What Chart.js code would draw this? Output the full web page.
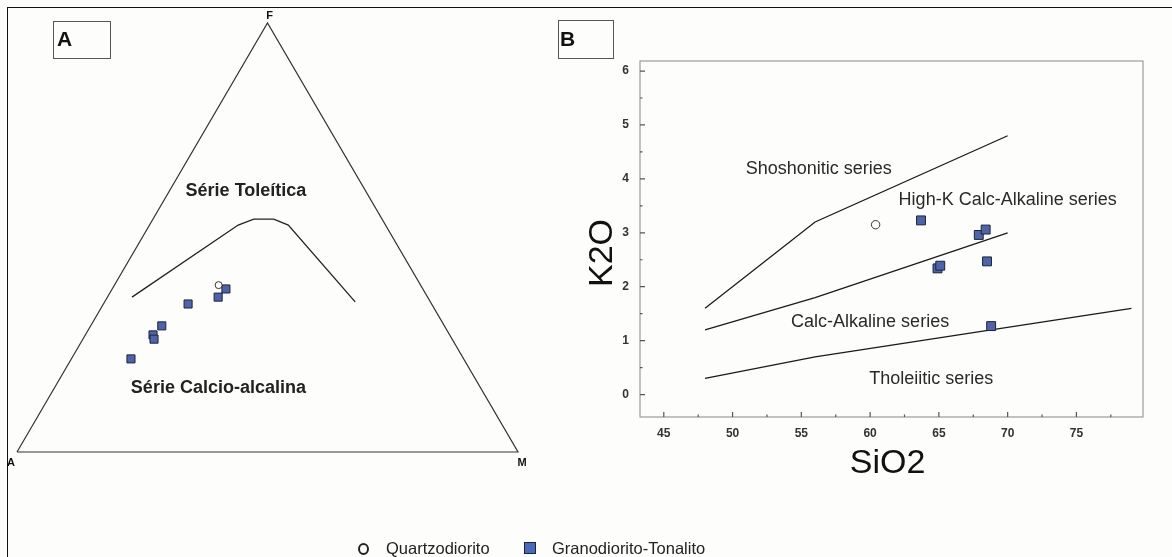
<!DOCTYPE html>
<html>
<head>
<meta charset="utf-8">
<script src="https://cdn.jsdelivr.net/npm/chart.js@4/dist/chart.umd.min.js"></script>
<style>
  body { margin: 0; width: 1172px; height: 557px; overflow: hidden; position: relative;
         background: #fdfdfb; font-family: Arial, "Liberation Sans", sans-serif; }
  #frame { position: absolute; left: 7px; top: 7px; right: -5px; bottom: -5px;
           border-top: 1.5px solid #111; border-left: 1.5px solid #111; }
  .tag { position: absolute; border: 1px solid #555; font-weight: bold; font-size: 21px;
         line-height: 21px; color: #111; box-sizing: border-box; }
  canvas { position: absolute; top: 0; }
  .leg { position: absolute; font-size: 16.5px; line-height: 20px; color: #222; top: 538px; }
</style>
</head>
<body>
<div id="frame"></div>
<canvas id="afm" width="560" height="557" style="left:0"></canvas>
<canvas id="kso" width="632" height="557" style="left:540px"></canvas>
<div class="tag" style="left:53px;top:21px;width:58px;height:38px;padding:6px 0 0 3px">A</div>
<div class="tag" style="left:558px;top:20px;width:56px;height:39px;padding:7px 0 0 1px">B</div>
<div id="legend"></div>
<script>
// ---- AFM diagram (A = Na2O+K2O, F = FeOt, M = MgO, in %) ----
const qdA = [40.3];
const qdF = [38.9];
const qdM = [20.8];
const gtA = [39.3, 41.8, 48.6, 56.4, 59.2, 59.5, 66.4];
const gtF = [38.0, 36.1, 34.5, 29.4, 27.3, 26.3, 21.7];
const gtM = [22.7, 22.1, 16.9, 14.2, 13.5, 14.2, 11.9];
// Irvine & Baragar tholeiitic / calc-alkaline divide
const divA = [59.0, 29.4, 25.6, 21.6, 19.4, 15.0];
const divF = [36.1, 52.9, 54.3, 54.3, 52.9, 35.0];
const divM = [4.9, 17.7, 20.1, 24.1, 27.7, 50.0];

// ---- K2O vs SiO2 diagram (wt%) ----
const qdSiO2 = [60.4];
const qdK2O = [3.15];
const gtSiO2 = [63.7, 67.9, 68.4, 64.9, 65.1, 68.5, 68.8];
const gtK2O = [3.23, 2.96, 3.06, 2.34, 2.39, 2.47, 1.27];
const shoSiO2 = [48, 56, 70];
const shoK2O = [1.6, 3.2, 4.8];
const hkSiO2 = [48, 56, 70];
const hkK2O = [1.2, 1.8, 3.0];
const thSiO2 = [48, 56, 79];
const thK2O = [0.3, 0.7, 1.6];
const xTicks = [45, 50, 55, 60, 65, 70, 75];
const xMinor = [47.5, 52.5, 57.5, 62.5, 67.5, 72.5, 77.5];
const yTicks = [0, 1, 2, 3, 4, 5, 6];
const yMinor = [0.5, 1.5, 2.5, 3.5, 4.5, 5.5];

const seriesNames = ['Quartzodiorito', 'Granodiorito-Tonalito'];
const sqFill = '#4e64a6';
const sqEdge = '#1b2340';

// ternary -> cartesian, A at origin, M at (100,0), F at apex
function toXY(a, f, m) {
  const s = a + f + m;
  return { x: (m + f / 2) / s * 100, y: f / s * 100 * Math.sqrt(3) / 2 };
}
function ternary(as, fs, ms) {
  return as.map((a, i) => toXY(a, fs[i], ms[i]));
}
function pairs(xs, ys) {
  return xs.map((x, i) => ({ x: x, y: ys[i] }));
}

// text helper, works in data coords of a chart
function label(chart, text, x, y, font, color, align, dx, dy) {
  const ctx = chart.ctx;
  ctx.save();
  ctx.font = font;
  ctx.fillStyle = color;
  ctx.textAlign = align || 'center';
  ctx.textBaseline = 'alphabetic';
  ctx.fillText(text, chart.scales.x.getPixelForValue(x) + (dx || 0),
               chart.scales.y.getPixelForValue(y) + (dy || 0));
  ctx.restore();
}

const afmText = {
  id: 'afmText',
  afterDatasetsDraw(chart) {
    const v = 'bold 11px Arial';
    const F = toXY(0, 100, 0), A = toXY(100, 0, 0), M = toXY(0, 0, 100);
    label(chart, 'F', F.x, F.y, v, '#111', 'center', 2, -4);
    label(chart, 'A', A.x, A.y, v, '#111', 'center', -6, 14);
    label(chart, 'M', M.x, M.y, v, '#111', 'center', 4, 14);
    label(chart, 'Série Toleítica', 45.7, 51.7, 'bold 18px Arial', '#222');
    label(chart, 'Série Calcio-alcalina', 40.2, 11.9, 'bold 18px Arial', '#222');
  }
};

new Chart(document.getElementById('afm'), {
  type: 'scatter',
  data: {
    datasets: [
      { label: seriesNames[0], data: ternary(qdA, qdF, qdM), pointStyle: 'circle', pointRadius: 3.5,
        backgroundColor: '#fff', borderColor: '#333', borderWidth: 1 },
      { label: seriesNames[1], data: ternary(gtA, gtF, gtM), pointStyle: 'rect', pointRadius: 5.7,
        backgroundColor: sqFill, borderColor: sqEdge, borderWidth: 1 },
      { data: ternary(divA, divF, divM), showLine: true, pointRadius: 0,
        borderColor: '#222', borderWidth: 1.3, clip: false },
      { data: ternary([100, 0, 0, 100], [0, 100, 0, 0], [0, 0, 100, 0]), showLine: true,
        pointRadius: 0, borderColor: '#333', borderWidth: 1.2, clip: false }
    ]
  },
  options: {
    responsive: false,
    animation: false,
    events: [],
    layout: { padding: { left: 17, right: 42, top: 23, bottom: 105 } },
    plugins: { legend: { display: false }, tooltip: { enabled: false } },
    scales: {
      x: { type: 'linear', min: 0, max: 100, display: false },
      y: { type: 'linear', min: 0, max: 86.6, display: false }
    }
  },
  plugins: [afmText]
});

// frame, inward ticks, axis titles and field names for the K2O diagram
const ksoDecor = {
  id: 'ksoDecor',
  afterDatasetsDraw(chart) {
    const ctx = chart.ctx, a = chart.chartArea;
    const sx = chart.scales.x, sy = chart.scales.y;
    ctx.save();
    ctx.strokeStyle = '#9c9c9c';
    ctx.lineWidth = 1.2;
    ctx.strokeRect(a.left, a.top, a.right - a.left, a.bottom - a.top);
    ctx.strokeStyle = '#555';
    ctx.beginPath();
    xTicks.forEach(v => { const p = sx.getPixelForValue(v); ctx.moveTo(p, a.bottom); ctx.lineTo(p, a.bottom - 5); });
    xMinor.forEach(v => { const p = sx.getPixelForValue(v); ctx.moveTo(p, a.bottom); ctx.lineTo(p, a.bottom - 2.5); });
    yTicks.forEach(v => { const p = sy.getPixelForValue(v); ctx.moveTo(a.left, p); ctx.lineTo(a.left + 5, p); });
    yMinor.forEach(v => { const p = sy.getPixelForValue(v); ctx.moveTo(a.left, p); ctx.lineTo(a.left + 2.5, p); });
    ctx.stroke();

    ctx.fillStyle = '#111';
    ctx.font = '34px Arial';
    ctx.textAlign = 'center';
    ctx.textBaseline = 'alphabetic';
    ctx.fillText('SiO2', (a.left + a.right) / 2 - 4, a.bottom + 56);
    ctx.translate(a.left - 28, (a.top + a.bottom) / 2 + 14);
    ctx.rotate(-Math.PI / 2);
    ctx.fillText('K2O', 0, 0);
    ctx.restore();

    const f = '18px Arial', c = '#2a2a2a';
    label(chart, 'Shoshonitic series', 56.27, 4.09, f, c);
    label(chart, 'High-K Calc-Alkaline series', 70.0, 3.51, f, c);
    label(chart, 'Calc-Alkaline series', 60.0, 1.25, f, c);
    label(chart, 'Tholeiitic series', 64.45, 0.19, f, c);
  }
};

const tickFont = { family: 'Arial', size: 12, weight: 'bold' };

new Chart(document.getElementById('kso'), {
  type: 'scatter',
  data: {
    datasets: [
      { label: seriesNames[0], data: pairs(qdSiO2, qdK2O), pointStyle: 'circle', pointRadius: 4.2,
        backgroundColor: '#fff', borderColor: '#333', borderWidth: 1 },
      { label: seriesNames[1], data: pairs(gtSiO2, gtK2O), pointStyle: 'rect', pointRadius: 6.3,
        backgroundColor: sqFill, borderColor: sqEdge, borderWidth: 1 },
      { data: pairs(shoSiO2, shoK2O), showLine: true, pointRadius: 0, borderColor: '#1a1a1a', borderWidth: 1.3 },
      { data: pairs(hkSiO2, hkK2O), showLine: true, pointRadius: 0, borderColor: '#1a1a1a', borderWidth: 1.3 },
      { data: pairs(thSiO2, thK2O), showLine: true, pointRadius: 0, borderColor: '#1a1a1a', borderWidth: 1.3 }
    ]
  },
  options: {
    responsive: false,
    animation: false,
    events: [],
    layout: { padding: { left: 0, right: 29, top: 61, bottom: 0 } },
    plugins: { legend: { display: false }, tooltip: { enabled: false } },
    scales: {
      x: {
        type: 'linear', min: 43.27, max: 79.84,
        grid: { display: false, drawTicks: false }, border: { display: false },
        ticks: { font: tickFont, color: '#333', padding: 9, autoSkip: false, maxRotation: 0 },
        afterBuildTicks(s) { s.ticks = xTicks.map(v => ({ value: v })); },
        afterFit(s) { s.height = 140; }
      },
      y: {
        type: 'linear', min: -0.416, max: 6.186,
        grid: { display: false, drawTicks: false }, border: { display: false },
        ticks: { font: tickFont, color: '#333', padding: 11, autoSkip: false },
        afterBuildTicks(s) { s.ticks = yTicks.map(v => ({ value: v })); },
        afterFit(s) { s.width = 100; }
      }
    }
  },
  plugins: [ksoDecor]
});

// shared legend under both diagrams
const legend = document.getElementById('legend');
legend.innerHTML =
  '<div style="position:absolute;left:358px;top:543px;width:7px;height:8px;border:2px solid #222;border-radius:50%"></div>' +
  '<div class="leg" style="left:386px">' + seriesNames[0] + '</div>' +
  '<div style="position:absolute;left:524px;top:542px;width:10px;height:10px;border:1.5px solid ' + sqEdge + ';background:#4a6ab8"></div>' +
  '<div class="leg" style="left:552px">' + seriesNames[1] + '</div>';
</script>
</body>
</html>
